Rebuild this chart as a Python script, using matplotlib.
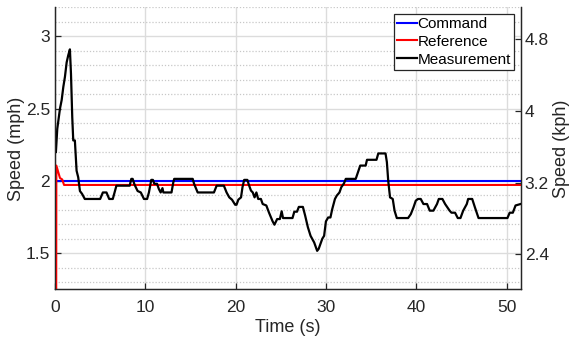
import matplotlib
matplotlib.use("Agg")
import matplotlib.pyplot as plt
from matplotlib.ticker import MultipleLocator

plt.rcParams['font.family'] = ['Liberation Sans', 'DejaVu Sans']

# ---- data ----
t_cmd = [0.0, 51.55]
y_cmd = [2.0, 2.0]

t_ref = [0.13, 0.15, 0.55, 0.8, 1.0, 51.55]
y_ref = [1.0, 2.106, 2.02, 2.01, 1.972, 1.972]

t_meas = [0.1, 0.25, 0.55, 0.74, 0.92, 1.1, 1.29, 1.47, 1.65, 1.77, 1.91, 2.02, 2.2, 2.39,
          2.57, 2.76, 3.0, 3.3, 5.0, 5.3, 5.7, 6.0, 6.4, 6.8, 8.27, 8.45, 8.6, 8.8, 9.15,
          9.5, 9.85, 10.2, 10.4, 10.66, 10.84, 11.0, 11.3, 11.5, 11.7, 11.9, 12.0, 12.9,
          13.1, 13.2, 15.25, 15.4, 15.8, 17.6, 17.9, 18.7, 19.0, 19.3, 19.6, 19.95, 20.1,
          20.3, 20.6, 20.76, 20.95, 21.3, 21.5, 21.7, 21.9, 22.1, 22.3, 22.5, 22.8, 23.0,
          23.4, 23.7, 24.1, 24.3, 24.6, 24.9, 25.1, 25.25, 26.3, 26.5, 26.8, 27.0, 27.45,
          27.7, 28.0, 28.3, 28.7, 29.03, 29.2, 29.6, 29.8, 30.0, 30.25, 30.5, 30.7, 31.0,
          31.2, 31.5, 31.7, 32.0, 32.2, 33.3, 33.55, 33.8, 34.4, 34.55, 35.6, 35.8, 36.6,
          36.75, 36.9, 37.1, 37.4, 37.6, 37.85, 39.1, 39.4, 39.7, 39.95, 40.2, 40.5, 40.8,
          41.2, 41.5, 41.9, 42.3, 42.5, 42.9, 43.2, 43.7, 43.9, 44.3, 44.6, 44.9, 45.2,
          45.6, 45.75, 46.2, 46.5, 46.9, 50.1, 50.35, 50.7, 51.0, 51.55]
y_meas = [2.2, 2.36, 2.5, 2.56, 2.65, 2.72, 2.82, 2.87, 2.91, 2.74, 2.44, 2.28, 2.28, 2.07,
          2.025, 1.93, 1.91, 1.875, 1.875, 1.92, 1.92, 1.875, 1.875, 1.967, 1.967, 2.014,
          2.014, 1.975, 1.93, 1.92, 1.875, 1.875, 1.92, 2.007, 2.007, 1.98, 1.98, 1.944,
          1.92, 1.95, 1.92, 1.92, 1.99, 2.014, 2.014, 1.98, 1.92, 1.92, 1.967, 1.967, 1.92,
          1.886, 1.87, 1.835, 1.835, 1.87, 1.886, 1.956, 2.007, 2.007, 1.967, 1.933, 1.92,
          1.886, 1.92, 1.875, 1.875, 1.84, 1.83, 1.78, 1.72, 1.697, 1.736, 1.736, 1.79,
          1.743, 1.743, 1.787, 1.787, 1.82, 1.82, 1.76, 1.68, 1.62, 1.574, 1.516, 1.53,
          1.6, 1.62, 1.72, 1.747, 1.747, 1.805, 1.875, 1.898, 1.92, 1.956, 1.983, 2.014,
          2.014, 2.06, 2.106, 2.106, 2.146, 2.146, 2.19, 2.19, 2.13, 2.0, 1.886, 1.875,
          1.794, 1.743, 1.743, 1.77, 1.817, 1.863, 1.875, 1.875, 1.84, 1.84, 1.794, 1.794,
          1.84, 1.875, 1.875, 1.84, 1.794, 1.78, 1.78, 1.743, 1.743, 1.794, 1.84, 1.875,
          1.875, 1.817, 1.743, 1.743, 1.78, 1.78, 1.83, 1.84]

x_ticks = [0, 10, 20, 30, 40, 50]
y_ticks = [1.5, 2.0, 2.5, 3.0]
y_tick_labels = ['1.5', '2', '2.5', '3']
kph_ticks = [2.4, 3.2, 4.0, 4.8]
kph_tick_labels = ['2.4', '3.2', '4', '4.8']
MPH_TO_KPH = 1.609344

# ---- figure ----
fig = plt.figure(figsize=(5.7, 3.39), dpi=100)
ax = fig.add_axes([0.0965, 0.1466, 0.8167, 0.8314])
axc = '#262626'

ax.plot(t_cmd, y_cmd, color='#0000ff', lw=1.5, label='Command', zorder=3)
ax.plot(t_ref, y_ref, color='#ff0000', lw=1.5, label='Reference', zorder=3)
ax.plot(t_meas, y_meas, color='#000000', lw=1.6, label='Measurement', zorder=4)

ax.set_xlim(0, 51.55)
ax.set_ylim(1.25, 3.2)
ax.set_xticks(x_ticks)
ax.set_yticks(y_ticks)
ax.set_yticklabels(y_tick_labels)
ax.yaxis.set_minor_locator(MultipleLocator(0.1))
ax.grid(True, which='major', color='#dcdcdc', lw=1.0, ls='-')
ax.grid(True, which='minor', axis='y', color='#c8c8c8', lw=0.9, ls=(0, (1, 1.5)))
ax.set_axisbelow(True)
ax.tick_params(which='major', direction='in', length=4, width=0.9, colors=axc,
               labelsize=12.5)
ax.tick_params(axis='x', pad=8)
ax.tick_params(axis='y', pad=3.5)
ax.tick_params(which='minor', length=0)
for sp in ['left', 'bottom', 'right']:
    ax.spines[sp].set_color(axc)
    ax.spines[sp].set_linewidth(0.9)
ax.spines['top'].set_visible(False)
ax.set_xlabel('Time (s)', fontsize=13, color=axc, labelpad=2.5)
ax.set_ylabel('Speed (mph)', fontsize=13, color=axc, labelpad=0.5)

ax2 = ax.twinx()
ax2.set_ylim(1.25 * MPH_TO_KPH, 3.2 * MPH_TO_KPH)
ax2.set_yticks(kph_ticks)
ax2.set_yticklabels(kph_tick_labels)
ax2.tick_params(direction='in', length=4, width=0.9, colors=axc, labelsize=12.5, pad=3)
ax2.spines['top'].set_visible(False)
for sp in ['left', 'bottom', 'right']:
    ax2.spines[sp].set_color(axc)
    ax2.spines[sp].set_linewidth(0.9)
ax2.set_ylabel('Speed (kph)', fontsize=13, color=axc, rotation=90, labelpad=3)

leg = ax.legend(loc='upper right', fontsize=11, frameon=True, fancybox=False,
                handlelength=1.3, handletextpad=0.05, borderpad=0.2, labelspacing=0.25,
                borderaxespad=0.42)
leg.get_frame().set_edgecolor('#262626')
leg.get_frame().set_linewidth(0.9)
leg.get_frame().set_alpha(1)

fig.savefig('out.png', dpi=100)
